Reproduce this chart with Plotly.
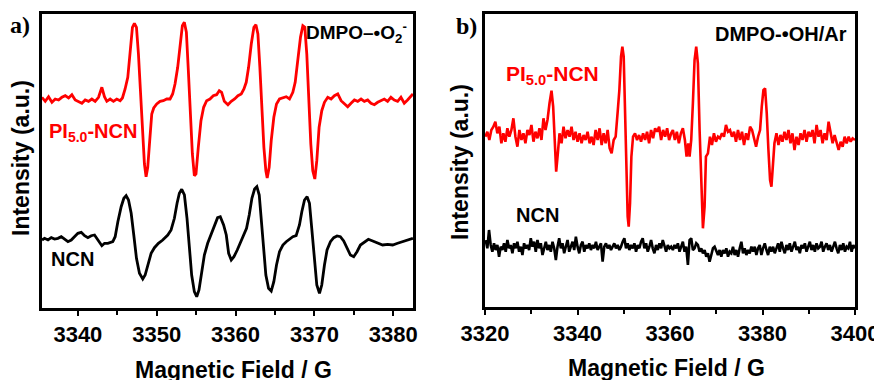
import plotly.graph_objects as go

# ---------------- Panel a) DMPO-•O2- ----------------
a_field_pi = [3335.44, 3335.86, 3336.28, 3336.71, 3337.13, 3337.55, 3337.97, 3338.40, 3338.82, 3339.24,
              3339.66, 3340.08, 3340.51, 3340.93, 3341.35, 3341.77, 3342.19, 3342.62, 3343.04, 3343.37,
              3343.67, 3344.09, 3344.51, 3344.93, 3345.36, 3345.65, 3345.99, 3346.33, 3346.62, 3346.92,
              3347.17, 3347.43, 3347.68, 3347.93, 3348.19, 3348.44, 3348.65, 3348.86, 3349.11, 3349.37,
              3349.62, 3350.00, 3350.42, 3350.84, 3351.27, 3351.69, 3352.02, 3352.32, 3352.66, 3352.95,
              3353.25, 3353.50, 3353.76, 3354.01, 3354.26, 3354.52, 3354.77, 3354.98, 3355.27, 3355.61,
              3355.95, 3356.33, 3356.75, 3357.17, 3357.59, 3357.93, 3358.23, 3358.57, 3359.03, 3359.45,
              3359.88, 3360.30, 3360.72, 3361.06, 3361.35, 3361.65, 3361.99, 3362.32, 3362.58, 3362.83,
              3363.08, 3363.34, 3363.59, 3363.84, 3364.01, 3364.26, 3364.52, 3364.85, 3365.19, 3365.57,
              3366.00, 3366.42, 3366.84, 3367.26, 3367.56, 3367.89, 3368.23, 3368.53, 3368.78, 3369.03,
              3369.29, 3369.54, 3369.79, 3370.05, 3370.30, 3370.59, 3370.93, 3371.27, 3371.69, 3372.11,
              3372.53, 3372.96, 3373.38, 3373.80, 3374.22, 3374.64, 3375.07, 3375.49, 3375.91, 3376.33,
              3376.75, 3377.17, 3377.60, 3378.02, 3378.44, 3378.86, 3379.28, 3379.70, 3380.13, 3380.55,
              3380.97, 3381.39, 3381.81, 3382.24, 3382.49]
a_int_pi = [210.7, 206.7, 211.3, 205.7, 209.0, 208.0, 210.7, 212.3, 210.0, 213.3,
            208.0, 206.7, 204.7, 208.0, 206.7, 209.0, 206.7, 210.7, 220.7, 211.3,
            206.7, 209.0, 206.7, 209.0, 207.3, 210.0, 219.0, 230.7, 257.3, 280.7,
            284.7, 280.7, 254.0, 217.3, 180.7, 144.0, 131.3, 140.7, 167.3, 194.0,
            200.0, 204.0, 206.7, 207.3, 209.0, 209.0, 214.0, 224.0, 240.7, 264.0,
            282.3, 285.7, 275.7, 237.3, 194.0, 154.0, 132.3, 134.0, 160.7, 187.3,
            200.7, 207.3, 209.0, 212.3, 213.3, 217.3, 215.7, 206.7, 203.3, 206.7,
            209.0, 212.3, 214.0, 219.0, 225.7, 240.7, 264.0, 280.7, 283.3, 274.0,
            240.7, 197.3, 160.7, 137.3, 130.0, 140.7, 167.3, 190.7, 204.0, 209.0,
            210.0, 211.3, 209.0, 215.7, 225.7, 247.3, 270.7, 282.3, 280.7, 254.0,
            207.3, 164.0, 137.3, 129.0, 147.3, 180.7, 197.3, 205.7, 210.7, 209.0,
            212.3, 214.0, 207.3, 204.7, 201.3, 204.7, 208.0, 206.7, 209.0, 206.7,
            208.0, 204.7, 203.3, 205.7, 207.3, 209.0, 206.7, 210.7, 208.0, 206.7,
            210.7, 204.7, 208.0, 212.3, 214.0]

a_field_ncn = [3335.45, 3335.78, 3336.21, 3336.63, 3337.05, 3337.47, 3337.89, 3338.32, 3338.74, 3339.16,
               3339.58, 3340.00, 3340.43, 3340.85, 3341.27, 3341.69, 3342.11, 3342.54, 3343.04, 3343.38,
               3343.80, 3344.43, 3344.73, 3345.07, 3345.49, 3345.83, 3346.12, 3346.42, 3346.76, 3347.09,
               3347.43, 3347.81, 3348.23, 3348.53, 3348.87, 3349.29, 3349.71, 3350.21, 3350.76, 3351.40,
               3351.82, 3352.24, 3352.58, 3352.87, 3353.17, 3353.51, 3353.84, 3354.14, 3354.43, 3354.77,
               3355.07, 3355.36, 3355.70, 3356.04, 3356.46, 3356.88, 3357.30, 3357.72, 3358.06, 3358.48,
               3358.82, 3359.12, 3359.45, 3359.79, 3360.21, 3360.64, 3361.06, 3361.39, 3361.73, 3362.07,
               3362.41, 3362.70, 3363.00, 3363.25, 3363.55, 3363.84, 3364.18, 3364.52, 3364.85, 3365.19,
               3365.57, 3366.00, 3366.42, 3366.84, 3367.26, 3367.68, 3368.10, 3368.40, 3368.74, 3369.07,
               3369.37, 3369.66, 3370.00, 3370.30, 3370.64, 3370.93, 3371.27, 3371.60, 3372.03, 3372.45,
               3372.87, 3373.29, 3373.71, 3374.14, 3374.56, 3374.98, 3375.40, 3375.83, 3376.33, 3376.84,
               3377.39, 3378.02, 3378.65, 3379.28, 3379.92, 3380.55, 3381.18, 3381.81, 3382.24, 3382.49]
a_int_ncn = [68.0, 69.7, 68.0, 70.3, 69.0, 69.7, 71.3, 68.7, 66.3, 68.0,
             71.3, 74.7, 75.7, 72.3, 70.3, 72.3, 73.0, 68.0, 62.3, 64.7,
             64.7, 66.3, 71.3, 86.3, 101.3, 109.7, 112.3, 108.0, 94.7, 73.0,
             49.7, 34.7, 29.0, 33.0, 43.0, 54.7, 60.3, 64.7, 68.0, 73.0,
             78.0, 89.7, 104.7, 114.7, 118.7, 113.0, 89.7, 59.7, 33.0, 16.3,
             11.3, 18.0, 36.3, 53.0, 64.7, 73.0, 83.0, 90.3, 91.3, 83.0,
             73.0, 54.7, 48.0, 51.3, 58.0, 66.3, 73.0, 79.7, 93.0, 109.7,
             119.0, 121.3, 113.0, 89.7, 56.3, 33.0, 19.7, 17.0, 26.3, 43.0,
             56.3, 63.0, 66.3, 68.7, 71.3, 72.3, 83.0, 96.3, 108.0, 111.3,
             104.7, 79.7, 46.3, 23.0, 14.7, 23.0, 43.0, 58.0, 66.3, 70.3,
             72.0, 71.3, 67.0, 59.7, 53.0, 51.3, 56.3, 63.0, 66.3, 68.7,
             67.0, 64.7, 63.0, 63.7, 63.0, 64.7, 66.3, 68.0, 69.0, 69.7]

# ---------------- Panel b) DMPO-•OH/Ar ----------------
b_field_pi = [3320.07, 3320.51, 3320.94, 3321.37, 3321.81, 3322.24, 3322.67, 3323.11, 3323.54, 3323.97,
              3324.41, 3324.84, 3325.27, 3325.71, 3326.14, 3326.58, 3327.01, 3327.44, 3327.88, 3328.31,
              3328.74, 3329.18, 3329.61, 3330.04, 3330.48, 3330.91, 3331.34, 3331.78, 3332.21, 3332.64,
              3333.08, 3333.51, 3333.95, 3334.38, 3334.74, 3335.10, 3335.39, 3335.75, 3336.11, 3336.55,
              3336.98, 3337.41, 3337.85, 3338.28, 3338.71, 3339.15, 3339.58, 3340.01, 3340.45, 3340.88,
              3341.32, 3341.75, 3342.18, 3342.62, 3343.05, 3343.48, 3343.92, 3344.35, 3344.78, 3345.22,
              3345.65, 3346.08, 3346.52, 3346.95, 3347.38, 3347.82, 3348.25, 3348.69, 3349.05, 3349.41,
              3349.70, 3349.99, 3350.28, 3350.56, 3350.85, 3351.07, 3351.36, 3351.65, 3352.01, 3352.44,
              3352.88, 3353.31, 3353.74, 3354.18, 3354.61, 3355.04, 3355.48, 3355.91, 3356.35, 3356.78,
              3357.21, 3357.65, 3358.08, 3358.51, 3358.95, 3359.38, 3359.81, 3360.25, 3360.62, 3361.05,
              3361.48, 3361.92, 3362.35, 3362.78, 3363.22, 3363.58, 3363.94, 3364.23, 3364.59, 3364.95,
              3365.31, 3365.67, 3366.03, 3366.40, 3366.76, 3367.12, 3367.48, 3367.77, 3368.20, 3368.64,
              3369.07, 3369.50, 3369.94, 3370.37, 3370.80, 3371.24, 3371.67, 3372.10, 3372.54, 3372.97,
              3373.40, 3373.84, 3374.27, 3374.70, 3375.14, 3375.57, 3376.01, 3376.44, 3376.87, 3377.31,
              3377.74, 3378.17, 3378.61, 3379.04, 3379.47, 3379.84, 3380.20, 3380.56, 3380.92, 3381.28,
              3381.64, 3381.93, 3382.22, 3382.58, 3383.02, 3383.45, 3383.88, 3384.32, 3384.75, 3385.18,
              3385.62, 3386.05, 3386.48, 3386.92, 3387.35, 3387.79, 3388.22, 3388.65, 3389.09, 3389.52,
              3389.95, 3390.39, 3390.82, 3391.25, 3391.69, 3392.12, 3392.55, 3392.99, 3393.42, 3393.86,
              3394.29, 3394.72, 3395.16, 3395.59, 3396.02, 3396.46, 3396.89, 3397.33, 3397.76, 3398.19,
              3398.63, 3399.06, 3399.49, 3400.00]
b_int_pi = [170.3, 175.3, 167.0, 177.0, 180.3, 185.3, 173.7, 180.3, 163.7, 173.7,
            165.3, 178.7, 170.3, 177.0, 188.7, 170.3, 160.3, 177.0, 167.0, 173.7,
            163.7, 177.0, 172.0, 182.0, 165.3, 175.3, 168.7, 178.7, 167.0, 188.7,
            177.0, 187.0, 203.7, 216.3, 200.3, 157.0, 135.3, 153.7, 173.7, 163.7,
            180.3, 168.7, 177.0, 170.3, 180.3, 167.0, 175.3, 165.3, 173.7, 163.7,
            172.0, 167.0, 175.3, 163.7, 170.3, 162.0, 177.0, 167.0, 178.7, 162.0,
            173.7, 163.7, 177.0, 158.7, 153.7, 167.0, 170.3, 195.3, 217.0, 250.3,
            260.3, 250.3, 193.7, 137.0, 90.3, 80.3, 103.7, 150.3, 170.3, 173.7,
            167.0, 172.0, 165.3, 173.7, 167.0, 175.3, 163.7, 177.0, 168.7, 178.7,
            175.3, 180.3, 167.0, 177.0, 170.3, 178.7, 167.0, 173.7, 177.0, 167.0,
            175.3, 163.7, 173.7, 178.7, 167.0, 150.3, 163.7, 150.3, 167.0, 203.7,
            247.0, 260.3, 243.7, 177.0, 117.0, 78.7, 100.3, 150.3, 153.7, 170.3,
            162.0, 173.7, 165.3, 170.3, 168.7, 173.7, 170.3, 182.0, 175.3, 177.0,
            170.3, 175.3, 165.3, 177.0, 167.0, 175.3, 162.0, 173.7, 167.0, 180.3,
            177.0, 167.0, 160.3, 170.3, 177.0, 200.3, 217.0, 218.7, 193.7, 157.0,
            127.0, 120.3, 143.7, 163.7, 173.7, 162.0, 172.0, 165.3, 175.3, 167.0,
            177.0, 163.7, 173.7, 157.0, 170.3, 162.0, 173.7, 167.0, 177.0, 165.3,
            175.3, 170.3, 177.0, 163.7, 182.0, 170.3, 177.0, 163.7, 173.7, 167.0,
            185.3, 173.7, 163.7, 172.0, 165.3, 157.0, 165.3, 160.3, 170.3, 163.7,
            170.3, 165.3, 168.7, 167.0]

b_field_ncn = [3320.15, 3320.51, 3320.87, 3321.23, 3321.59, 3321.95, 3322.31, 3322.67, 3323.04, 3323.40,
               3323.76, 3324.12, 3324.48, 3324.84, 3325.20, 3325.56, 3325.93, 3326.29, 3326.65, 3327.01,
               3327.37, 3327.73, 3328.09, 3328.45, 3328.82, 3329.18, 3329.54, 3329.90, 3330.26, 3330.62,
               3330.98, 3331.34, 3331.71, 3332.07, 3332.43, 3332.79, 3333.15, 3333.51, 3333.87, 3334.23,
               3334.60, 3334.96, 3335.32, 3335.68, 3336.04, 3336.40, 3336.76, 3337.12, 3337.49, 3337.85,
               3338.21, 3338.57, 3338.93, 3339.29, 3339.65, 3340.01, 3340.38, 3340.74, 3341.10, 3341.46,
               3341.82, 3342.18, 3342.54, 3342.90, 3343.27, 3343.63, 3343.99, 3344.35, 3344.71, 3345.07,
               3345.43, 3345.79, 3346.16, 3346.52, 3346.88, 3347.24, 3347.60, 3347.96, 3348.32, 3348.68,
               3349.05, 3349.41, 3349.77, 3350.13, 3350.49, 3350.85, 3351.21, 3351.57, 3351.94, 3352.30,
               3352.66, 3353.02, 3353.38, 3353.74, 3354.10, 3354.46, 3354.83, 3355.19, 3355.55, 3355.91,
               3356.27, 3356.63, 3356.99, 3357.35, 3357.72, 3358.08, 3358.44, 3358.80, 3359.16, 3359.52,
               3359.88, 3360.25, 3360.62, 3360.98, 3361.34, 3361.70, 3362.06, 3362.42, 3362.78, 3363.14,
               3363.50, 3363.87, 3364.23, 3364.59, 3364.95, 3365.31, 3365.67, 3366.03, 3366.40, 3366.76,
               3367.12, 3367.48, 3367.84, 3368.20, 3368.56, 3368.93, 3369.29, 3369.65, 3370.01, 3370.37,
               3370.73, 3371.09, 3371.45, 3371.82, 3372.18, 3372.54, 3372.90, 3373.26, 3373.62, 3373.98,
               3374.34, 3374.71, 3375.07, 3375.43, 3375.79, 3376.15, 3376.51, 3376.87, 3377.23, 3377.60,
               3377.96, 3378.32, 3378.68, 3379.04, 3379.40, 3379.76, 3380.12, 3380.49, 3380.85, 3381.21,
               3381.57, 3381.93, 3382.29, 3382.65, 3383.01, 3383.38, 3383.74, 3384.10, 3384.46, 3384.82,
               3385.18, 3385.54, 3385.90, 3386.27, 3386.63, 3386.99, 3387.35, 3387.71, 3388.07, 3388.43,
               3388.79, 3389.16, 3389.52, 3389.88, 3390.24, 3390.60, 3390.96, 3391.32, 3391.68, 3392.05,
               3392.41, 3392.77, 3393.13, 3393.49, 3393.85, 3394.21, 3394.57, 3394.94, 3395.30, 3395.66,
               3396.02, 3396.38, 3396.74, 3397.10, 3397.46, 3397.83, 3398.19, 3398.55, 3398.91, 3399.27,
               3399.63, 3400.00]
b_int_ncn = [67.0, 58.7, 77.0, 62.0, 55.3, 63.7, 57.0, 62.0, 50.3, 60.3,
             57.0, 63.7, 55.3, 67.0, 58.7, 62.0, 53.7, 63.7, 58.7, 65.3,
             55.3, 60.3, 52.0, 63.7, 58.7, 62.0, 57.0, 68.7, 60.3, 65.3,
             55.3, 67.0, 58.7, 63.7, 52.0, 60.3, 65.3, 57.0, 62.0, 55.3,
             65.3, 58.7, 47.0, 60.3, 68.7, 58.7, 63.7, 53.7, 62.0, 67.0,
             55.3, 60.3, 65.3, 57.0, 70.3, 60.3, 53.7, 62.0, 65.3, 55.3,
             62.0, 58.7, 63.7, 57.0, 62.0, 58.7, 65.3, 57.0, 60.3, 63.7,
             45.3, 60.3, 63.7, 58.7, 62.0, 57.0, 60.3, 63.7, 58.7, 62.0,
             57.0, 60.3, 65.3, 68.7, 58.7, 63.7, 57.0, 62.0, 58.7, 63.7,
             55.3, 62.0, 58.7, 65.3, 68.7, 58.7, 63.7, 55.3, 60.3, 67.0,
             58.7, 53.7, 62.0, 57.0, 63.7, 58.7, 67.0, 60.3, 55.3, 62.0,
             58.7, 60.3, 57.0, 62.0, 58.7, 63.7, 55.3, 60.3, 65.3, 55.3,
             60.3, 42.0, 67.0, 68.7, 57.0, 58.7, 63.7, 62.0, 55.3, 58.7,
             53.7, 57.0, 50.3, 53.7, 45.3, 52.0, 58.7, 60.3, 55.3, 52.0,
             57.0, 50.3, 57.0, 53.7, 58.7, 50.3, 55.3, 53.7, 60.3, 52.0,
             57.0, 50.3, 58.7, 65.3, 53.7, 58.7, 52.0, 57.0, 53.7, 60.3,
             55.3, 60.3, 52.0, 58.7, 62.0, 52.0, 58.7, 63.7, 57.0, 52.0,
             60.3, 55.3, 60.3, 53.7, 58.7, 63.7, 55.3, 65.3, 58.7, 53.7,
             62.0, 57.0, 63.7, 55.3, 60.3, 65.3, 57.0, 60.3, 53.7, 62.0,
             58.7, 63.7, 55.3, 60.3, 65.3, 57.0, 62.0, 55.3, 63.7, 58.7,
             60.3, 65.3, 55.3, 60.3, 63.7, 57.0, 62.0, 55.3, 60.3, 65.3,
             58.7, 53.7, 62.0, 57.0, 63.7, 55.3, 60.3, 58.7, 65.3, 55.3,
             62.0, 58.7]

a_xrange = [3335.45, 3382.5]
b_xrange = [3320, 3400]

# page body has an 8 px margin: figure is 874x372 and positions are given in window pixels
OFF = 8
W, H = 882 - OFF, 380 - OFF
def px(x):
    return (x - OFF) / W
def py(y):
    return 1 - (y - OFF) / H

FONT = "Liberation Sans"
RED = "#ff0000"

fig = go.Figure()
fig.add_trace(go.Scatter(x=a_field_pi, y=a_int_pi, mode="lines", line=dict(color=RED, width=2.8),
                         xaxis="x", yaxis="y", showlegend=False))
fig.add_trace(go.Scatter(x=a_field_ncn, y=a_int_ncn, mode="lines", line=dict(color="black", width=2.8),
                         xaxis="x", yaxis="y", showlegend=False))
fig.add_trace(go.Scatter(x=b_field_ncn, y=b_int_ncn, mode="lines", line=dict(color="black", width=2.6),
                         xaxis="x2", yaxis="y2", showlegend=False))
fig.add_trace(go.Scatter(x=b_field_pi, y=b_int_pi, mode="lines", line=dict(color=RED, width=2.6),
                         xaxis="x2", yaxis="y2", showlegend=False))

tickfont = dict(family=FONT, size=22, color="black", weight="bold")
xcommon = dict(showline=True, linecolor="black", linewidth=3, mirror=True, ticks="outside",
               ticklen=5, tickwidth=2, tickcolor="black", showgrid=False, zeroline=False,
               tickfont=tickfont, automargin=False)
ycommon = dict(showline=True, linecolor="black", linewidth=3, mirror=True, ticks="",
               showticklabels=False, showgrid=False, zeroline=False, automargin=False)

fig.update_layout(
    width=W, height=H,
    margin=dict(l=0, r=0, t=0, b=0, pad=0, autoexpand=False),
    paper_bgcolor="white", plot_bgcolor="white",
    xaxis=dict(domain=[px(42), px(413)], range=a_xrange, dtick=10, tick0=3340,
               minor=dict(dtick=5, tick0=3335, ticks="outside", ticklen=4, tickwidth=2, tickcolor="black"),
               anchor="y", **xcommon),
    yaxis=dict(domain=[py(308), py(14)], range=[0, 294], anchor="x", **ycommon),
    xaxis2=dict(domain=[px(485), px(855)], range=b_xrange, dtick=20, tick0=3320,
                minor=dict(dtick=10, ticks="outside", ticklen=4, tickwidth=2, tickcolor="black"),
                anchor="y2", **xcommon),
    yaxis2=dict(domain=[py(307), py(14)], range=[0, 293], anchor="x2", **ycommon),
)

ann = []
def add(text, x, y, size, color="black", xanchor="center", yanchor="middle", angle=0, family=FONT):
    ann.append(dict(text=text, x=px(x), y=py(y), xref="paper", yref="paper", showarrow=False,
                    xanchor=xanchor, yanchor=yanchor, textangle=angle,
                    font=dict(family=family, size=size, color=color, weight="bold")))

# axis titles
add("Magnetic Field / G", 233, 370, 23)
add("Magnetic Field / G", 666, 368, 23)
add("Intensity (a.u.)", 21, 158, 23, angle=-90)
add("Intensity (a.u.)", 460, 162, 23, angle=-90)
# panel labels
add("a)", 8, 25, 24, xanchor="left", family="Liberation Serif")
add("b)", 454, 26, 24, xanchor="left", family="Liberation Serif")
# in-plot labels
add("DMPO–•O<sub>2</sub><sup>-</sup>", 409, 33, 19, xanchor="right")
add("PI<sub>5.0</sub>-NCN", 47, 133, 20, color=RED, xanchor="left")
add("NCN", 49, 259, 20, xanchor="left")
add("DMPO-•OH/Ar", 849, 34, 20, xanchor="right")
add("PI<sub>5.0</sub>-NCN", 504, 75, 21, color=RED, xanchor="left")
add("NCN", 514, 215, 20, xanchor="left")
fig.update_layout(annotations=ann)

fig.write_html("out.html")
